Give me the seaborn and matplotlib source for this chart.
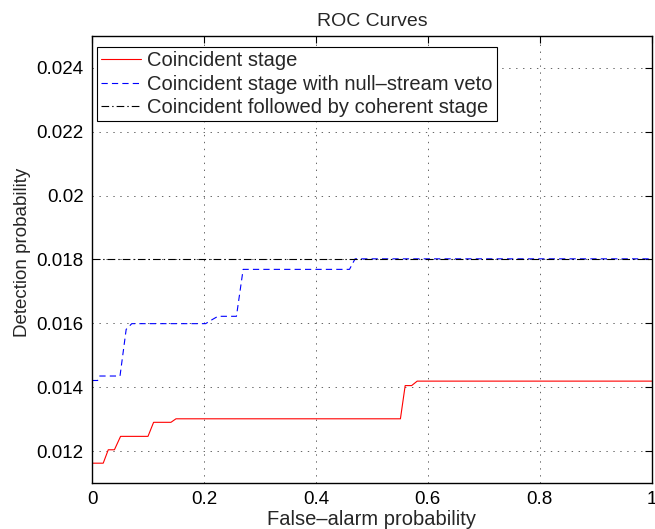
import numpy as np
import pandas as pd
import seaborn as sns
import matplotlib
matplotlib.use("Agg")
import matplotlib.pyplot as plt

# ROC curve values
coinc_x = [0, 0.02, 0.029, 0.04, 0.051, 0.10, 0.11, 0.141, 0.15, 0.551, 0.5595, 0.571, 0.581, 1.0]
coinc_y = [0.01162, 0.01162, 0.01204, 0.01204, 0.01246, 0.01246, 0.0129, 0.0129,
           0.01301, 0.01301, 0.01405, 0.01405, 0.01419, 0.01419]

veto_x = [0, 0.01, 0.013, 0.05, 0.061, 0.071, 0.203, 0.215, 0.225, 0.258, 0.27, 0.46, 0.47, 1.0]
veto_y = [0.01421, 0.01421, 0.01435, 0.01435, 0.01581, 0.01599, 0.01599, 0.01612,
          0.01622, 0.01622, 0.01769, 0.01769, 0.01802, 0.01802]

coher_x = [0, 1.0]
coher_y = [0.01802, 0.01802]

labels = ["Coincident stage",
          "Coincident stage with null\u2013stream veto",
          "Coincident followed by coherent stage"]

x_ticks = [0, 0.2, 0.4, 0.6, 0.8, 1]
x_ticklabels = ["0", "0.2", "0.4", "0.6", "0.8", "1"]
y_ticks = [0.012, 0.014, 0.016, 0.018, 0.020, 0.022, 0.024]
y_ticklabels = ["0.012", "0.014", "0.016", "0.018", "0.02", "0.022", "0.024"]

sns.set_style("white")
plt.rcParams['font.family'] = ['Liberation Sans', 'DejaVu Sans']
plt.rcParams['lines.scale_dashes'] = False

fig = plt.figure(figsize=(6.55, 5.29), dpi=100)
ax = fig.add_axes([0.1405, 0.087, 0.8545, 0.845])

styles = [
    (coinc_x, coinc_y, "#ff0000", "-"),
    (veto_x, veto_y, "#0000ff", (0, (4.5, 3.0))),
    (coher_x, coher_y, "#000000", (0, (5.5, 2.2, 1.0, 2.2))),
]
for (xs, ys, col, ls), lab in zip(styles, labels):
    df = pd.DataFrame({"x": xs, "y": ys})
    sns.lineplot(data=df, x="x", y="y", ax=ax, sort=False, estimator=None,
                 color=col, linestyle=ls, linewidth=0.8, label=lab)

ax.set_xlim(0, 1)
ax.set_ylim(0.011, 0.025)
ax.set_xticks(x_ticks)
ax.set_xticklabels(x_ticklabels)
ax.set_yticks(y_ticks)
ax.set_yticklabels(y_ticklabels)
ax.tick_params(direction="in", length=5, width=0.8, top=True, right=True,
               labelsize=13.5, colors="black", pad=6)
for s in ax.spines.values():
    s.set_visible(True)
    s.set_color("black")
    s.set_linewidth(1.0)

ax.grid(True, linestyle=(0, (1, 4)), color="black", linewidth=0.6, alpha=0.7)

ax.set_xlabel("False\u2013alarm probability", fontsize=14.5, labelpad=1)
ax.set_ylabel("Detection probability", fontsize=13.5, labelpad=4, y=0.515)
ax.set_title("ROC Curves", fontsize=14, pad=7)

leg = ax.legend(loc="upper left", bbox_to_anchor=(0.009, 0.975), borderaxespad=0,
                fontsize=14.5, handlelength=2.0, fancybox=False, framealpha=1,
                borderpad=0.2, labelspacing=0.22, handletextpad=0.3)
leg.get_frame().set_edgecolor("black")
leg.get_frame().set_linewidth(0.8)

fig.savefig("out.png", dpi=100)
